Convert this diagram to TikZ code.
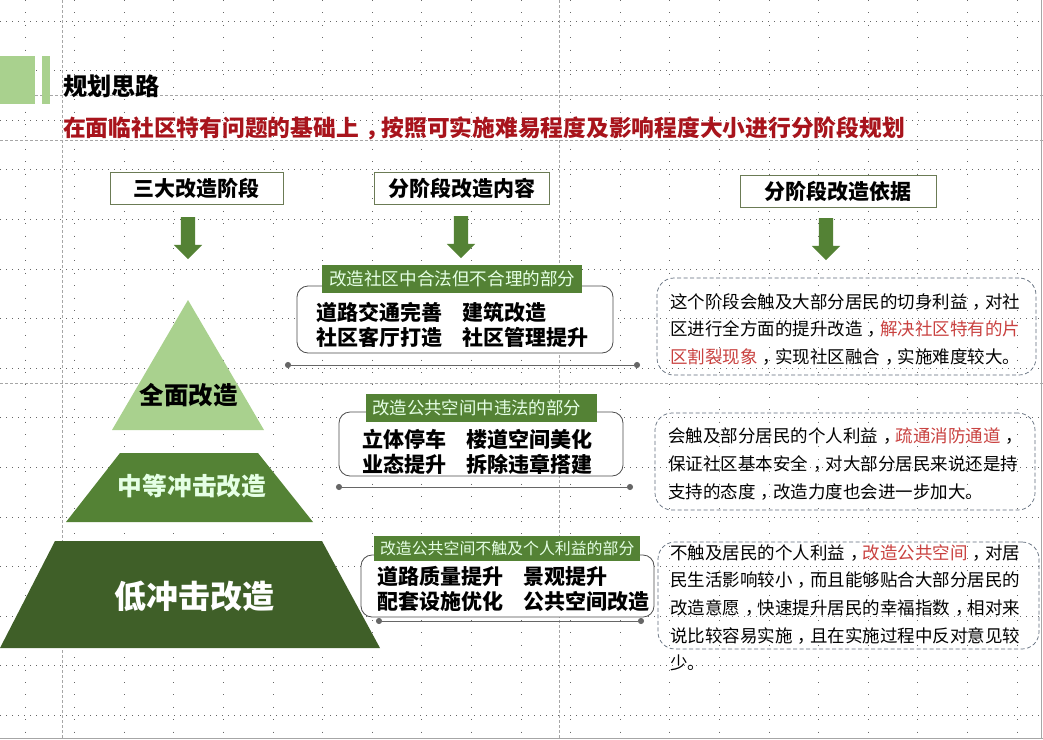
\documentclass[tikz,border=0pt]{standalone}
\usepackage{fontspec}
\setmainfont{Noto Sans CJK SC}
\usetikzlibrary{shapes.arrows,arrows.meta}

\definecolor{lightgreen}{HTML}{A9D18E}
\definecolor{midgreen}{HTML}{548235}
\definecolor{darkgreen}{HTML}{3F5F28}
\definecolor{title red}{HTML}{A8141C}
\definecolor{note red}{HTML}{C9413F}
\definecolor{guide}{HTML}{A6A6A6}
\definecolor{olive line}{HTML}{6B7B55}
\definecolor{slate line}{HTML}{5F6B7A}

\begin{document}
\begin{tikzpicture}[x=1pt,y=-1pt]

\tikzset{
    every node/.style={inner sep=0pt},
    dot row/.style={black!60, line width=.9pt, dash pattern=on .9pt off 5.1pt},
    dot col/.style={black!60, line width=.9pt, dash pattern=on .9pt off 11.5pt},
    guide line/.style={guide, line width=.6pt, dash pattern=on 3pt off 2pt},
    header/.style={draw=olive line, line width=.8pt, fill=white, minimum height=32pt, font=\fontsize{21}{21}\selectfont\bfseries},
    block arrow/.style={single arrow, fill=midgreen, rotate=-90, inner sep=7pt, minimum height=42pt, minimum width=28pt, single arrow head extend=7pt, single arrow head indent=0pt},
    tag/.style={fill=midgreen, text=green!10!white, anchor=west},
    plan box/.style={draw=black!70, line width=.8pt, rounded corners=11pt, fill=white},
    plan rule/.style={{Circle[length=6pt]}-{Circle[length=6pt]}, black!60, line width=.8pt},
    plan text/.style={matrix, anchor=north west, column sep=20pt, row sep=5pt,
        nodes={anchor=west, text height=20pt, text depth=0pt, font=\fontsize{21}{21}\selectfont\bfseries}},
    note box/.style={draw=slate line, line width=.7pt, dash pattern=on 4pt off 2.5pt, rounded corners=17pt},
    note text/.style={anchor=north west, align=left, font=\fontsize{17.5}{27.7}\selectfont},
    tier label/.style={font=\bfseries}
}
\newcommand{\hot}[1]{\textcolor{note red}{#1}}
\newcommand{\midcomma}{\kern.3em，\kern-.3em}

\useasboundingbox (0,0) rectangle (1043,739);
\fill[white] (0,0) rectangle (1043,739);

% dotted page grid
\foreach \r in {0,...,14} {
    \draw[dot row] (0,21+49.6*\r) -- (1043,21+49.6*\r);
}
\foreach \c in {0,...,20} {
    \draw[dot col] (25+49.6*\c,0) -- (25+49.6*\c,739);
}
\draw[guide line] (0,95) -- (1043,95);
\draw[guide line] (0,140) -- (1043,140);
\draw[guide line] (0,383) -- (1043,383);
\draw[guide line] (62,0) -- (62,739);
\draw[guide line] (559,0) -- (559,739);
\draw[guide, line width=1pt] (0,738) -- (1043,738);
\draw[guide, line width=.6pt] (1041,0) -- (1041,739);

% title
\fill[lightgreen] (0,56) rectangle (35,104);
\fill[lightgreen] (42,56) rectangle (50,104);
\node[anchor=west, font=\fontsize{24.2}{24.2}\selectfont\bfseries] (TITLE) at (63,86) {规划思路};
\node[anchor=west, text=title red, font=\fontsize{22.75}{22.75}\selectfont\bfseries] (SUBTITLE) at (63,128) {在面临社区特有问题的基础上\midcomma 按照可实施难易程度及影响程度大小进行分阶段规划};

% column headers
\node[header, minimum width=173pt] (stage header) at (196.5,188) {三大改造阶段};
\node[header, minimum width=175pt] (content header) at (461.5,188) {分阶段改造内容};
\node[header, minimum width=196pt] (basis header) at (838,191) {分阶段改造依据};

\node[block arrow] (stage arrow) at (188,234.5) {};
\node[block arrow] (content arrow) at (461,233.5) {};
\node[block arrow] (basis arrow) at (826,235.5) {};

% pyramid
\fill[lightgreen] (188,300) -- (264,430) -- (112,430) -- cycle;
\fill[midgreen] (120,453) -- (258,453) -- (313,522) -- (66,522) -- cycle;
\fill[darkgreen] (55,541) -- (322,541) -- (380,648) -- (0,648) -- cycle;
\node[tier label, font=\fontsize{24.5}{24.5}\selectfont\bfseries] (TOP TIER) at (188.5,395) {全面改造};
\node[tier label, text=green!10!white, font=\fontsize{24.7}{24.7}\selectfont\bfseries] (MIDDLE TIER) at (192,486) {中等冲击改造};
\node[tier label, text=white, font=\fontsize{32}{32}\selectfont\bfseries] (LOW TIER) at (194.5,596) {低冲击改造};

% first stage
\node[plan box, minimum width=316pt, minimum height=67pt] (plan one) at (455,319.5) {};
\node[tag, minimum width=260pt, minimum height=28pt, font=\fontsize{17.6}{17.6}\selectfont] (tag one) at (322,279) {改造社区中合法但不合理的部分};
\matrix[plan text] (items one) at (316.5,300) {
    \node{道路交通完善};&\node{建筑改造};\\
    \node{社区客厅打造};&\node{社区管理提升};\\
};
\coordinate (rule one a) at (285,365);
\coordinate (rule one b) at (640,365);
\draw[plan rule] (rule one a) -- (rule one b);
\node[note box, minimum width=379pt, minimum height=97pt] (note one) at (846.5,326.5) {};
\node[note text] (note one text) at (670,293) {这个阶段会触及大部分居民的切身利益\midcomma 对社\\区进行全方面的提升改造\midcomma\hot{解决社区特有的片}\\\hot{区割裂现象}\midcomma 实现社区融合\midcomma 实施难度较大。};

% second stage
\node[plan box, minimum width=284pt, minimum height=64pt] (plan two) at (481,444) {};
\node[tag, minimum width=231pt, minimum height=28pt, font=\fontsize{17.4}{17.4}\selectfont] (tag two) at (366,408) {改造公共空间中违法的部分\hspace*{10pt}};
\matrix[plan text] (items two) at (362,427) {
    \node{立体停车};&\node{楼道空间美化};\\
    \node{业态提升};&\node{拆除违章搭建};\\
};
\coordinate (rule two a) at (336,487);
\coordinate (rule two b) at (633,487);
\draw[plan rule] (rule two a) -- (rule two b);
\node[note box, minimum width=380pt, minimum height=97pt] (note two) at (845,461.5) {};
\node[note text] (note two text) at (668,428) {会触及部分居民的个人利益\midcomma\hot{疏通消防通道}\midcomma\\保证社区基本安全\midcomma 对大部分居民来说还是持\\支持的态度\midcomma 改造力度也会进一步加大。};

% third stage
\node[plan box, minimum width=293pt, minimum height=62pt] (plan three) at (507.5,586) {};
\node[tag, minimum width=266pt, minimum height=25pt, font=\fontsize{15.9}{15.9}\selectfont] (tag three) at (374,548.5) {改造公共空间不触及个人利益的部分};
\matrix[plan text] (items three) at (377,564) {
    \node{道路质量提升};&\node{景观提升};\\
    \node{配套设施优化};&\node{公共空间改造};\\
};
\coordinate (rule three a) at (376,621);
\coordinate (rule three b) at (644,621);
\draw[plan rule] (rule three a) -- (rule three b);
\node[note box, minimum width=381pt, minimum height=107pt] (note three) at (848.5,595.5) {};
\node[note text] (note three text) at (670,544) {不触及居民的个人利益\midcomma\hot{改造公共空间}\midcomma 对居\\民生活影响较小\midcomma 而且能够贴合大部分居民的\\改造意愿\midcomma 快速提升居民的幸福指数\midcomma 相对来\\说比较容易实施\midcomma 且在实施过程中反对意见较\\少。};

\end{tikzpicture}
\end{document}
